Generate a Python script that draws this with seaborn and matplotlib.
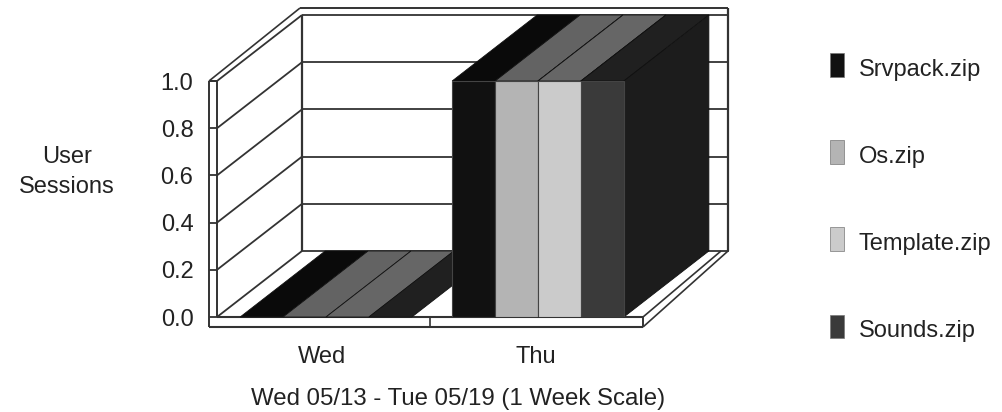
import matplotlib
matplotlib.use("Agg")
import matplotlib.pyplot as plt
from matplotlib.patches import Polygon, Patch
import pandas as pd
import seaborn as sns

# --- chart data ---
DAYS = ["Wed", "Thu"]
FILES = ["Srvpack.zip", "Os.zip", "Template.zip", "Sounds.zip"]
SRVPACK = [0.0, 1.0]
OS_ZIP = [0.0, 1.0]
TEMPLATE = [0.0, 1.0]
SOUNDS = [0.0, 1.0]
Y_TICKS = [0.0, 0.2, 0.4, 0.6, 0.8, 1.0]

FRONT_COLORS = ["#111111", "#b4b4b4", "#cbcbcb", "#3a3a3a"]
TOP_COLORS = ["#0a0a0a", "#636363", "#666666", "#202020"]
SIDE_COLOR = "#1c1c1c"
LINE = "#333333"
TEXT = "#222222"
FS = 17

W, H = 1003, 412
PX_X = 212.0   # pixels per category
PX_Y = 236.0   # pixels per 1.0 session
DX = 85 / PX_X  # depth of the 3d box in data units
DY = 66 / PX_Y

sns.set_theme(style="white")
plt.rcParams["font.family"] = ["Liberation Sans", "DejaVu Sans"]

df = pd.DataFrame({
    "day": DAYS * 4,
    "file": [f for f in FILES for _ in DAYS],
    "sessions": SRVPACK + OS_ZIP + TEMPLATE + SOUNDS,
})

fig = plt.figure(figsize=(W / 100, H / 100), dpi=100)
ax = fig.add_axes([217 / W, (H - 317) / H, 426 / W, PX_Y / H])
sns.barplot(data=df, x="day", y="sessions", hue="file", order=DAYS, hue_order=FILES,
            palette=FRONT_COLORS, width=0.81, gap=0, saturation=1,
            edgecolor="#444444", linewidth=0.8, legend=False, ax=ax)
x0, x1 = -109 / PX_X, 317 / PX_X
ax.set_xlim(x0, x1)
ax.set_ylim(0, 1)
ax.patch.set_alpha(0)
for s in ax.spines.values():
    s.set_visible(False)


def seg(xs, ys, lw=1.3, z=2):
    ax.plot(xs, ys, color=LINE, lw=lw, clip_on=False, zorder=z, solid_capstyle="butt")


# back wall and gridlines
strip = 8 / PX_X
slab = 10 / PX_Y
for t in Y_TICKS:
    seg([x0, x0 + DX], [t, t + DY])
    seg([x0 + DX, x1 + DX + 1 / PX_X], [t + DY, t + DY])
    seg([x0 - strip, x0], [t, t])
seg([x0 + DX, x0 + DX], [DY, 1 + DY], lw=1.6)
seg([x1 + DX, x1 + DX], [DY, 1 + DY + 7 / PX_Y], lw=1.6)

# left strip, bottom slab, outer top edge
seg([x0, x0], [-0.0, 1], lw=1.4)
seg([x0 - strip, x0 - strip], [-slab, 1], lw=1.4)
seg([x0 - strip, x0], [1, 1], lw=1.4)
seg([x0 - strip, x1], [-slab, -slab], lw=1.5)
seg([x0, x1], [0, 0], lw=1.5)
seg([x1, x1], [-slab, 0], lw=1.4)
seg([0.49, 0.49], [-slab, 0], lw=1.2)
seg([x1, x1 + 78 / PX_X], [0, DY], lw=1.2)
seg([x1, x1 + DX], [-slab, DY], lw=1.2)
seg([x0 - strip, x0 + DX - 2 / PX_X], [1, 1 + DY + 7 / PX_Y], lw=1.2)
seg([x0 + DX - 2 / PX_X, x1 + DX], [1 + DY + 7 / PX_Y, 1 + DY + 7 / PX_Y], lw=1.4)

# 3d faces derived from the bars seaborn laid out
bars = [(c, b) for c in range(len(FILES)) for b in ax.containers[c].patches]
bars.sort(key=lambda item: item[1].get_x())
for c, b in bars:
    left, right = b.get_x(), b.get_x() + b.get_width()
    h = b.get_height()
    top = [(left, h), (right, h), (right + DX, h + DY), (left + DX, h + DY)]
    ax.add_patch(Polygon(top, closed=True, fc=TOP_COLORS[c], ec="#111111", lw=0.6,
                         clip_on=False, zorder=3))
    if h > 0:
        side = [(right, 0), (right + DX, DY), (right + DX, h + DY), (right, h)]
        ax.add_patch(Polygon(side, closed=True, fc=SIDE_COLOR, ec="#111111", lw=0.6,
                             clip_on=False, zorder=3))
    b.set_zorder(5)

ax.set_yticks(Y_TICKS, [f"{t:.1f}" for t in Y_TICKS])
ax.set_xticks([-4 / PX_X, 1 - 2 / PX_X], DAYS)
ax.tick_params(axis="y", length=0, pad=17, labelsize=FS, labelcolor=TEXT)
ax.tick_params(axis="x", length=0, pad=21, labelsize=FS, labelcolor=TEXT)
ax.set_ylabel("User\nSessions", rotation=0, fontsize=FS, color=TEXT, ha="center", va="center",
              linespacing=1.43)
ax.yaxis.set_label_coords((67 - 217) / 426, (317 - 172) / PX_Y)
ax.set_xlabel("Wed 05/13 - Tue 05/19 (1 Week Scale)", fontsize=17.3, color=TEXT, va="center")
ax.xaxis.set_label_coords((458 - 217) / 426, (317 - 399) / PX_Y)

handles = [Patch(fc=c, ec="#777777", lw=0.5) for c in FRONT_COLORS]
px = 0.72 / FS  # one pixel in legend font units
leg = ax.legend(handles, FILES, loc="upper left", bbox_to_anchor=(830 / W, (H - 53) / H),
                bbox_transform=fig.transFigure, frameon=False, fontsize=FS, labelcolor=TEXT,
                borderpad=0, borderaxespad=0, handlelength=14 * px, handleheight=28 * px,
                labelspacing=62.2 * px, handletextpad=15 * px)
for t in leg.get_texts():
    t.set_y(-3)  # labels sit slightly below the swatch centre

fig.savefig("out.png", dpi=100)
